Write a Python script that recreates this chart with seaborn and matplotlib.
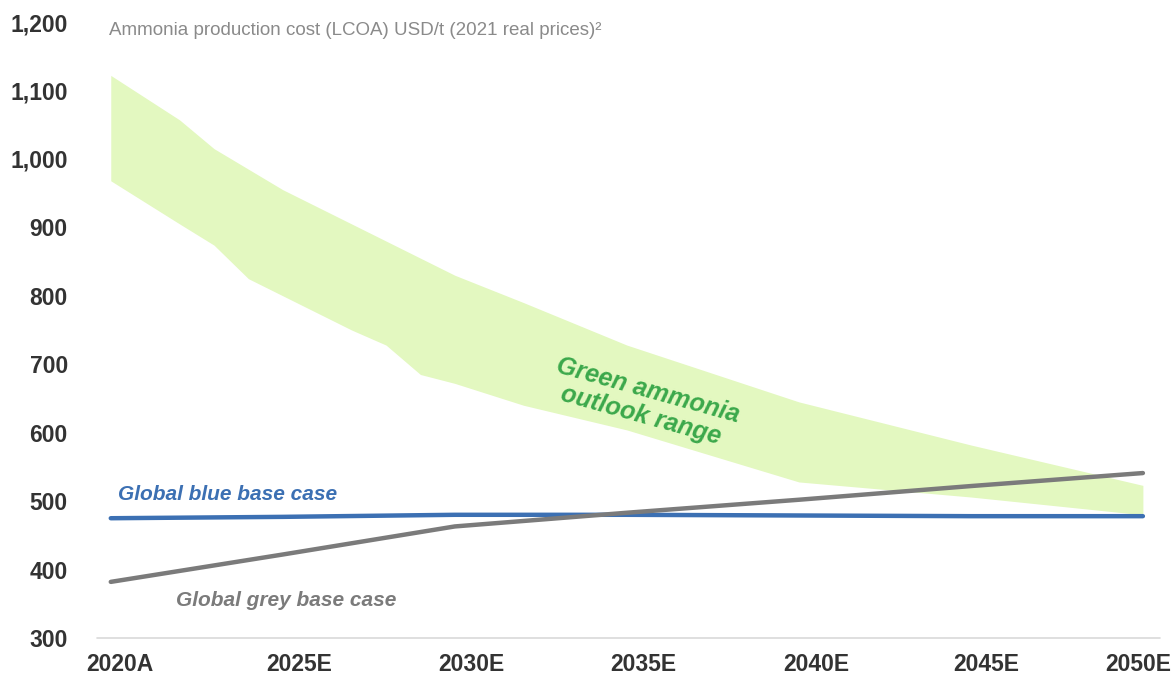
import numpy as np
import pandas as pd
import matplotlib
matplotlib.use("Agg")
import matplotlib.pyplot as plt
import matplotlib.transforms as mtransforms
import seaborn as sns

# Cost series, USD/t (2021 real prices)
years = [2020, 2025, 2030, 2035, 2040, 2045, 2050]
blue_cost = [475, 477, 480, 480, 479, 478, 478]
grey_cost = [382, 422, 463, 483, 502, 522, 541]

# Green ammonia outlook range (upper and lower bounds)
green_years = [2020, 2022, 2023, 2024, 2025, 2027, 2028, 2029, 2030, 2032, 2035, 2040, 2045, 2050]
green_high = [1122, 1057, 1015, 985, 955, 905, 880, 855, 830, 790, 728, 645, 582, 523]
green_low = [968, 905, 874, 825, 800, 750, 728, 685, 672, 640, 604, 528, 506, 480]

tick_labels = ["2020A", "2025E", "2030E", "2035E", "2040E", "2045E", "2050E"]
y_ticks = [300, 400, 500, 600, 700, 800, 900, 1000, 1100, 1200]

sns.set_theme(style="white")
plt.rcParams["font.family"] = ["Liberation Sans", "DejaVu Sans"]

df = pd.DataFrame({
    "year": years * 2,
    "cost": blue_cost + grey_cost,
    "case": ["blue"] * len(years) + ["grey"] * len(years),
})

fig = plt.figure(figsize=(11.73, 6.77), dpi=100)
ax = fig.add_axes([0.0827, 0.0576, 0.9063, 0.9099])

ax.fill_between(green_years, green_low, green_high, color="#e3f8c0", linewidth=0, zorder=1)

sns.lineplot(data=df, x="year", y="cost", hue="case",
             palette={"blue": "#3c70b3", "grey": "#7b7b7b"},
             linewidth=3.2, legend=False, ax=ax, zorder=3,
             solid_capstyle="round")

ax.set_xlim(2019.6, 2050.5)
ax.set_ylim(300, 1200)
ax.set_xticks(years)
ax.set_xticklabels(tick_labels)
ax.set_yticks(y_ticks)
ax.set_yticklabels([f"{v:,}" for v in y_ticks])
ax.set_xlabel("")
ax.set_ylabel("")

for s in ax.spines.values():
    s.set_visible(False)
ax.axhline(300, color="#d9d9d9", linewidth=1.2, zorder=0, clip_on=False)

ax.tick_params(axis="both", length=0, labelsize=16.5, labelcolor="#333333")
ax.tick_params(axis="y", pad=21)
ax.tick_params(axis="x", pad=11)
for lbl in ax.get_xticklabels() + ax.get_yticklabels():
    lbl.set_fontweight("bold")

# category labels sit slightly right of their year, edge labels kept inside the frame
label_shift_px = [9, 16, 17, 16, 17, 15, -5]
for lbl, dx in zip(ax.get_xticklabels(), label_shift_px):
    lbl.set_transform(lbl.get_transform() +
                      mtransforms.ScaledTranslation(dx / 100, 0, fig.dpi_scale_trans))

ax.text(2019.95, 1188, "Ammonia production cost (LCOA) USD/t (2021 real prices)²",
        fontsize=13.5, color="#8a8a8a", va="center", ha="left")

ax.text(2020.2, 509, "Global blue base case", fontsize=15, color="#3c70b3",
        fontweight="bold", fontstyle="italic", va="center", ha="left")
ax.text(2021.9, 355, "Global grey base case", fontsize=15, color="#7b7b7b",
        fontweight="bold", fontstyle="italic", va="center", ha="left")

ax.text(2035.5, 644, "Green ammonia\noutlook range", fontsize=18, color="#3ba84b",
        fontweight="bold", fontstyle="italic", va="center", ha="center",
        multialignment="center", rotation=-15.5, rotation_mode="anchor", linespacing=1.1)

fig.savefig("out.png", dpi=100)
